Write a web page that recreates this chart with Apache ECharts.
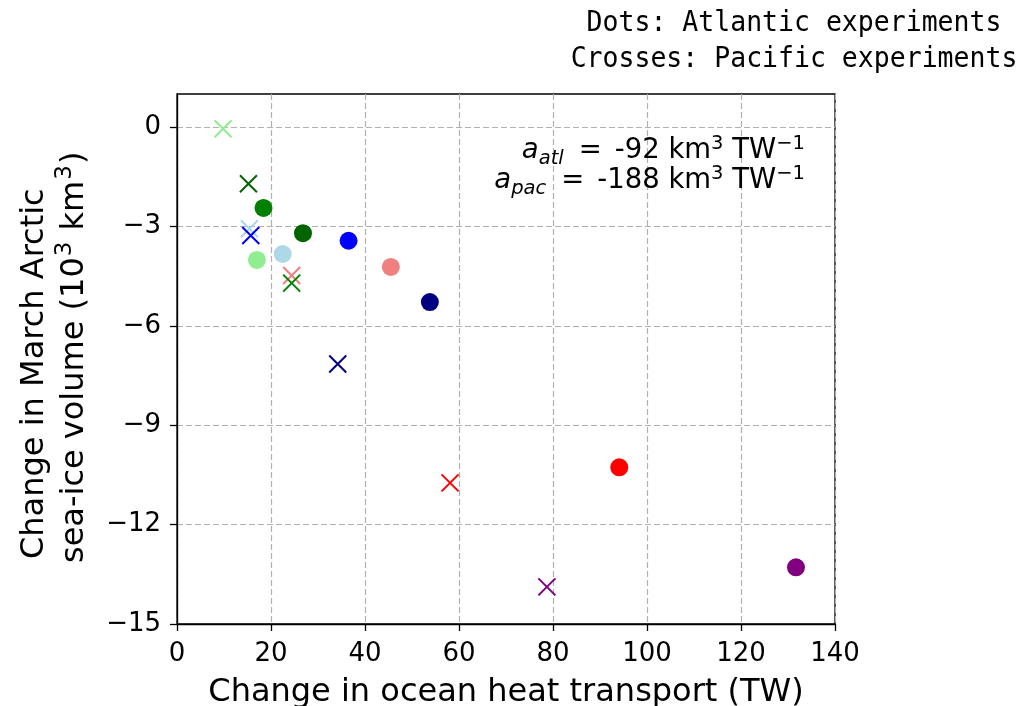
<!DOCTYPE html>
<html><head><meta charset="utf-8">
<script src="https://cdn.jsdelivr.net/npm/echarts@6/dist/echarts.min.js"></script>
<style>html,body{margin:0;padding:0;background:#fff}#c{width:1034px;height:706px}</style>
</head><body><div id="c"></div>
<script>
// Experiment colours (one per experiment)
const atlColors = ['green','darkgreen','blue','lightgreen','lightblue','lightcoral','navy','red','purple'];
const atlX = [18.4, 26.8, 36.5, 17.0, 22.5, 45.5, 53.8, 94.1, 131.7];
const atlY = [-2.44, -3.20, -3.43, -4.01, -3.83, -4.22, -5.28, -10.27, -13.29];
const pacColors = ['lightgreen','darkgreen','lightblue','blue','lightcoral','green','navy','red','purple'];
const pacX = [9.8, 15.2, 15.4, 15.7, 24.4, 24.4, 34.2, 58.1, 78.7];
const pacY = [-0.05, -1.71, -3.07, -3.27, -4.48, -4.71, -7.15, -10.74, -13.88];
const xTicks = [0, 20, 40, 60, 80, 100, 120, 140];
const yTicks = [-15, -12, -9, -6, -3, 0];

const chart = echarts.init(document.getElementById('c'), null, {renderer:'canvas'});
const font = 'DejaVu Sans';
const series = [];
for (let i = 0; i < atlX.length; i++) {
  series.push({type:'scatter', data:[[atlX[i], atlY[i]]], symbol:'circle', symbolSize:18,
    itemStyle:{color:atlColors[i], opacity:1}, z:3});
}
for (let i = 0; i < pacX.length; i++) {
  series.push({type:'scatter', data:[[pacX[i], pacY[i]]], symbol:'path://M0,0L10,10M10,0L0,10', symbolSize:17,
    itemStyle:{color:'none', borderColor:pacColors[i], borderWidth:2, opacity:1}, z:3});
}
const gridLine = {show:true, lineStyle:{color:'#b0b0b0', type:[6,3], width:1.2}};
chart.setOption({
  animation:false,
  grid:{left:177, right:199, top:94, bottom:82, show:true, borderColor:'#000', borderWidth:1.3,
    backgroundColor:'#fff', containLabel:false, outerBoundsMode:'none'},
  xAxis:{type:'value', min:0, max:140, interval:20,
    name:'Change in ocean heat transport (TW)', nameLocation:'middle', nameGap:53,
    nameTextStyle:{fontFamily:font, fontSize:32, color:'#000'},
    axisLine:{show:true, onZero:false, lineStyle:{color:'#000', width:1.3}},
    axisTick:{show:true, length:7, lineStyle:{color:'#000', width:1.3}, customValues: xTicks},
    axisLabel:{fontFamily:font, fontSize:26, color:'#000', margin:17, customValues: xTicks},
    splitLine:gridLine},
  yAxis:{type:'value', min:-15, max:1, interval:3,
    axisLine:{show:true, onZero:false, lineStyle:{color:'#000', width:1.3}},
    axisTick:{show:true, length:7, lineStyle:{color:'#000', width:1.3}, customValues: yTicks},
    axisLabel:{fontFamily:font, fontSize:26, color:'#000', margin:16, customValues: yTicks,
      formatter: v => String(v).replace('-', '\u2212')},
    splitLine:gridLine},
  series: series,
  graphic:[
    {type:'text', x:794, y:5, scaleY:1.06, style:{text:'Dots: Atlantic experiments\nCrosses: Pacific experiments',
      x:0, y:0, font:'26.5px "DejaVu Sans Mono"', fill:'#000', align:'center', verticalAlign:'top', lineHeight:34.5}},
    {type:'text', x:805, y:136, z:10, style:{
      x:0, y:0,
      text:'{i|a}{s|atl}{e|=}{n|-92 km}{p|3}{n| TW}{p|\u22121}\n{i|a}{s|pac}{e|=}{n|-188 km}{p|3}{n| TW}{p|\u22121}',
      align:'right', verticalAlign:'top', fill:'#000', lineHeight:30,
      rich:{
        i:{fontFamily:font, fontSize:27.5, fontStyle:'italic', fill:'#000', lineHeight:30},
        s:{fontFamily:font, fontSize:19.5, fontStyle:'italic', fill:'#000', padding:[15,0,0,0], lineHeight:30},
        e:{fontFamily:font, fontSize:27.5, fill:'#000', padding:[0,13,0,15], lineHeight:30},
        n:{fontFamily:font, fontSize:27.5, fill:'#000', lineHeight:30},
        p:{fontFamily:font, fontSize:19.5, fill:'#000', padding:[0,0,15,0], lineHeight:30}
      }}},
    {type:'text', x:34.5, y:559, rotation:Math.PI/2, style:{x:0, y:0,
      text:'Change in March Arctic', align:'left', verticalAlign:'middle',
      font:'32px "DejaVu Sans"', fill:'#000'}},
    {type:'text', x:74.5, y:563, rotation:Math.PI/2, style:{x:0, y:0,
      text:'{n|sea-ice volume (10}{p|3}{n| km}{p|3}{n|)}', align:'left', verticalAlign:'middle', fill:'#000',
      rich:{
        n:{fontFamily:font, fontSize:32, fill:'#000', lineHeight:36},
        p:{fontFamily:font, fontSize:23, fill:'#000', padding:[0,1,18,1], lineHeight:36}
      }}}
  ]
});
</script></body></html>
